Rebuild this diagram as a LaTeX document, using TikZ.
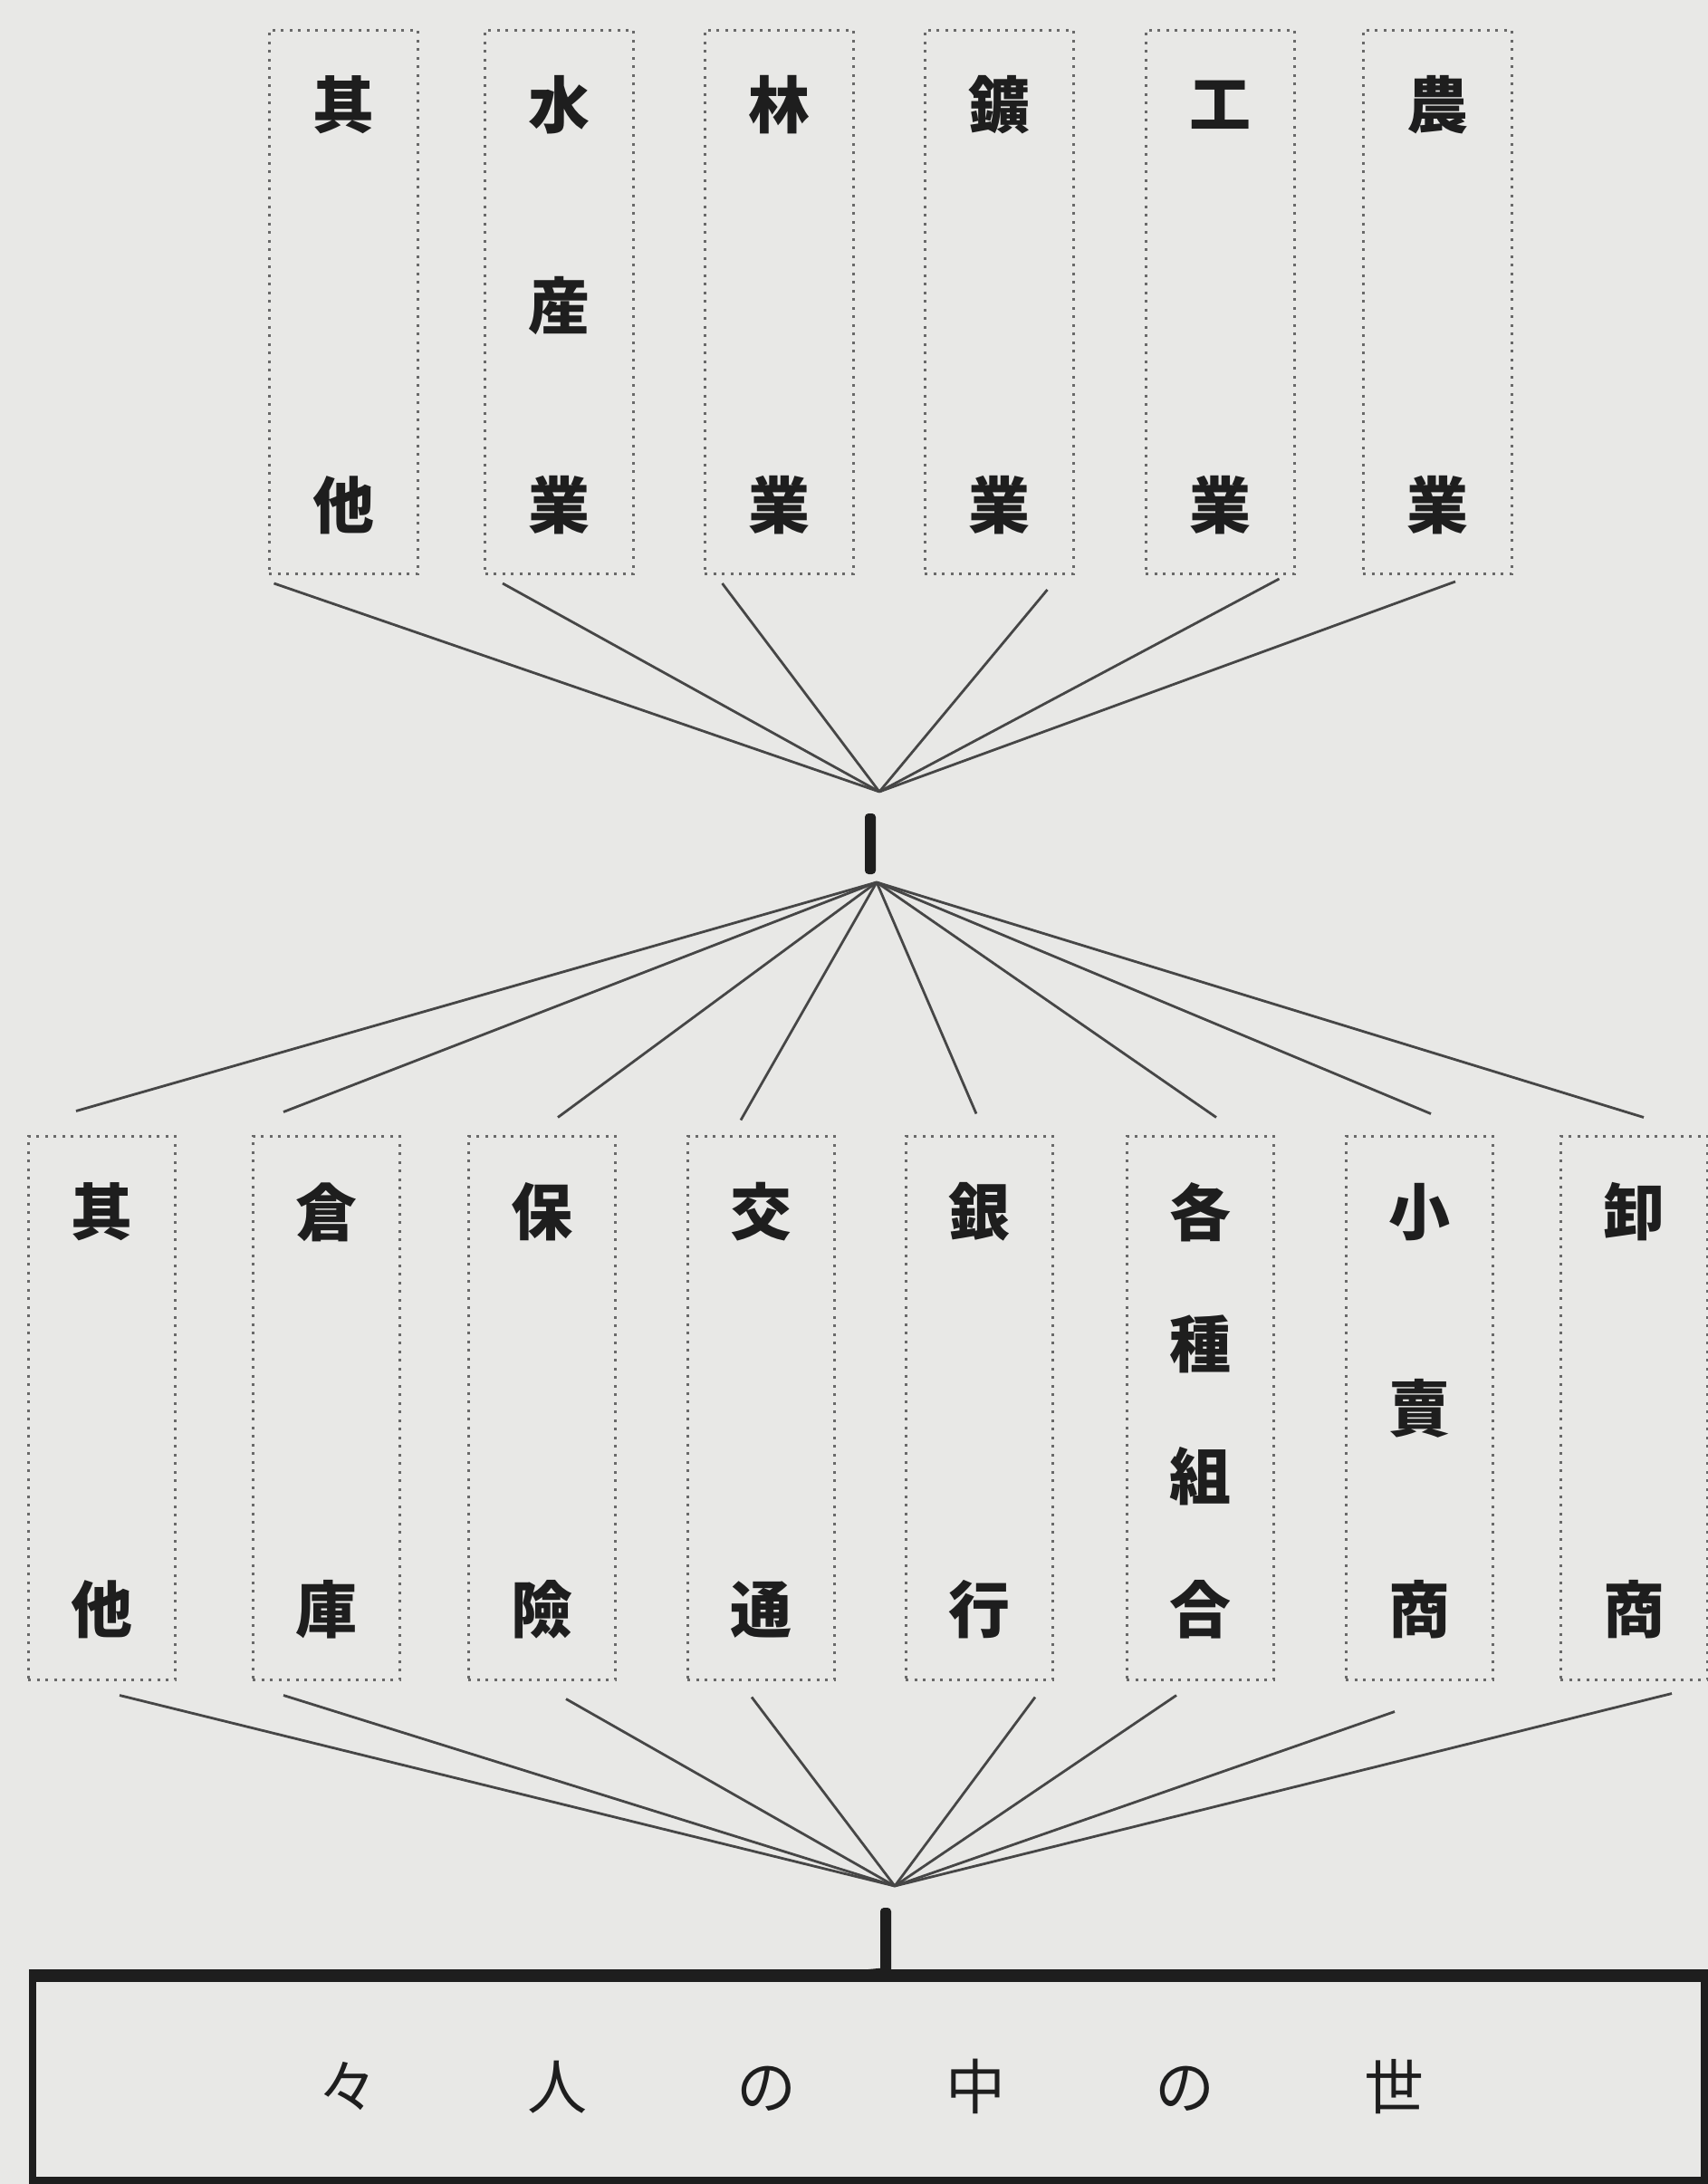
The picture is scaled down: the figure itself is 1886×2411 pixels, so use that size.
\documentclass[tikz,border=0pt]{standalone}
\usepackage{fontspec}
\newfontfamily\jp{Noto Sans CJK JP}
\definecolor{paper}{RGB}{232,232,230}
\definecolor{ink}{RGB}{30,30,30}
\definecolor{dotc}{RGB}{105,105,105}
\definecolor{linec}{RGB}{70,70,70}
\begin{document}
\begin{tikzpicture}[x=1pt,y=-1pt,
  catbox/.style={rectangle, draw=dotc, line width=3pt, dash pattern=on 3pt off 6.5pt,
                 minimum width=164pt, minimum height=600pt, inner sep=0pt},
  kanji/.style={font=\jp\bfseries\fontsize{68}{68}\selectfont, text=ink, inner sep=0pt},
  fan/.style={draw=linec, line width=2.8pt},
  hubbar/.style={rectangle, fill=ink, rounded corners=4pt, minimum width=12pt, inner sep=0pt}
]
\fill[paper] (0,0) rectangle (1886,2411);
\useasboundingbox (0,0) rectangle (1886,2411);

% ---- top row boxes ----
\foreach \n/\x in {t1/379,t2/617.5,t3/860,t4/1103,t5/1347,t6/1587}
  \node[catbox] (\n) at (\x,333.5) {};
\node[kanji] (t1a) at (379,116) {其};
\node[kanji] (t1b) at (379,558) {他};
\node[kanji] (t2a) at (617.5,116) {水};
\node[kanji] (t2b) at (617.5,338) {産};
\node[kanji] (t2c) at (617.5,558) {業};
\node[kanji] (t3a) at (860,116) {林};
\node[kanji] (t3b) at (860,558) {業};
\node[kanji] (t4a) at (1103,116) {鑛};
\node[kanji] (t4b) at (1103,558) {業};
\node[kanji] (t5a) at (1347,116) {工};
\node[kanji] (t5b) at (1347,558) {業};
\node[kanji] (t6a) at (1587,116) {農};
\node[kanji] (t6b) at (1587,558) {業};

% ---- first hub ----
\node[hubbar, minimum height=67pt] (hub1) at (961,931.5) {};
\coordinate (hub1in) at (971,874);
\coordinate (hub1out) at (968,974);

\draw[fan] ([shift={(7,9)}]t1.south west) -- (hub1in);
\draw[fan] ([shift={(21,9)}]t2.south west) -- (hub1in);
\draw[fan] ([shift={(21,9)}]t3.south west) -- (hub1in);
\draw[fan] ([shift={(-30,16)}]t4.south east) -- (hub1in);
\draw[fan] ([shift={(-18,4)}]t5.south east) -- (hub1in);
\draw[fan] ([shift={(20,7)}]t6.south) -- (hub1in);

% ---- bottom row boxes ----
\foreach \n/\x in {b1/112,b2/360,b3/598,b4/840,b5/1081,b6/1325,b7/1567,b8/1804}
  \node[catbox, minimum width=162pt] (\n) at (\x,1554) {};
\node[kanji] (b1a) at (112,1338) {其};
\node[kanji] (b1b) at (112,1777) {他};
\node[kanji] (b2a) at (360,1338) {倉};
\node[kanji] (b2b) at (360,1777) {庫};
\node[kanji] (b3a) at (598,1338) {保};
\node[kanji] (b3b) at (598,1777) {險};
\node[kanji] (b4a) at (840,1338) {交};
\node[kanji] (b4b) at (840,1777) {通};
\node[kanji] (b5a) at (1081,1338) {銀};
\node[kanji] (b5b) at (1081,1777) {行};
\node[kanji] (b6a) at (1325,1338) {各};
\node[kanji] (b6b) at (1325,1484) {種};
\node[kanji] (b6c) at (1325,1630) {組};
\node[kanji] (b6d) at (1325,1777) {合};
\node[kanji] (b7a) at (1567,1338) {小};
\node[kanji] (b7b) at (1567,1555) {賣};
\node[kanji] (b7c) at (1567,1777) {商};
\node[kanji] (b8a) at (1804,1338) {卸};
\node[kanji] (b8b) at (1804,1777) {商};

\draw[fan] (hub1out) -- ([shift={(-28,-26)}]b1.north);
\draw[fan] (hub1out) -- ([shift={(-47,-25)}]b2.north);
\draw[fan] (hub1out) -- ([shift={(18,-19)}]b3.north);
\draw[fan] (hub1out) -- ([shift={(-22,-16)}]b4.north);
\draw[fan] (hub1out) -- ([shift={(-3,-23)}]b5.north);
\draw[fan] (hub1out) -- ([shift={(18,-19)}]b6.north);
\draw[fan] (hub1out) -- ([shift={(13,-23)}]b7.north);
\draw[fan] (hub1out) -- ([shift={(11,-19)}]b8.north);

% ---- second hub ----
\coordinate (hub2in) at (988,2082);
\draw[fan] ([shift={(20,16)}]b1.south) -- (hub2in);
\draw[fan] ([shift={(-47,16)}]b2.south) -- (hub2in);
\draw[fan] ([shift={(27,20)}]b3.south) -- (hub2in);
\draw[fan] ([shift={(-10,18)}]b4.south) -- (hub2in);
\draw[fan] ([shift={(62,18)}]b5.south) -- (hub2in);
\draw[fan] ([shift={(-26,16)}]b6.south) -- (hub2in);
\draw[fan] ([shift={(-27,34)}]b7.south) -- (hub2in);
\draw[fan] ([shift={(42,14)}]b8.south) -- (hub2in);

% ---- world box ----
\node[rectangle, draw=ink, line width=8pt, minimum width=1846pt, minimum height=223pt, inner sep=0pt]
  (world) at (959,2295.5) {};
\draw[ink, line width=12pt] (world.north west) -- (world.north east);
\node[hubbar, minimum height=72pt] (hub2) at (978,2142) {};
\draw[ink, line width=12pt] (hub2.south) -- (world.north);
\node[kanji, font=\jp\fontsize{66}{66}\selectfont] (worldtext) at (962,2303)
  {々\hspace{165pt}人\hspace{165pt}の\hspace{165pt}中\hspace{165pt}の\hspace{165pt}世};
\end{tikzpicture}
\end{document}
